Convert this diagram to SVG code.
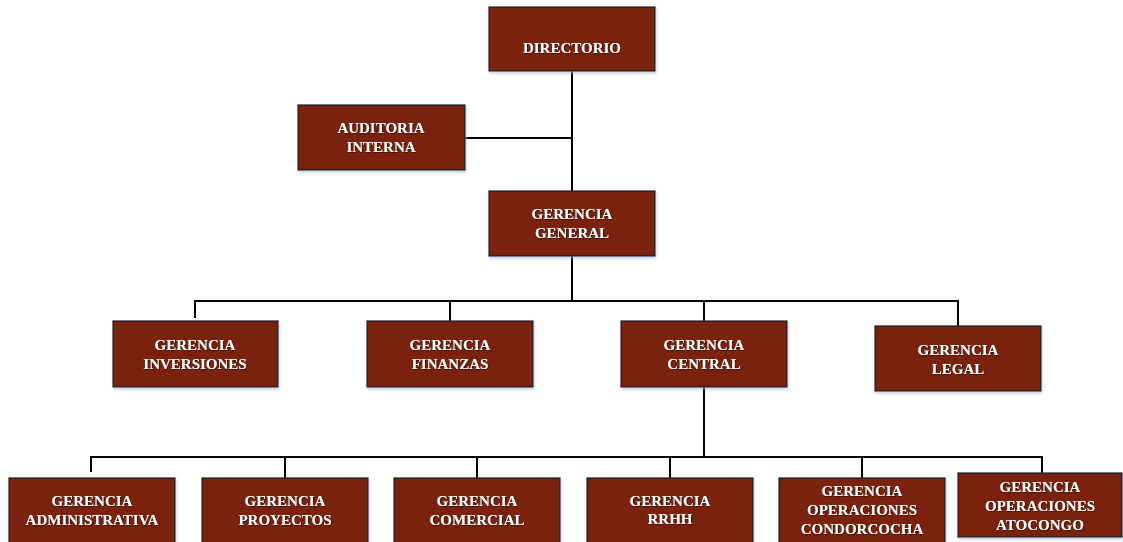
<svg xmlns="http://www.w3.org/2000/svg" width="1123" height="542" viewBox="0 0 1123 542">
<style>
.box{fill:#7a200b;stroke:#1a1a1a;stroke-width:1.2;filter:url(#bs)}
.t{font-family:"Liberation Serif","Times New Roman",serif;font-weight:bold;font-size:15px;fill:#ffffff;text-anchor:middle;filter:url(#ts)}
.c{stroke:#000;stroke-width:2;fill:none}
</style>
<defs>
<filter id="bs" x="-10%" y="-10%" width="120%" height="130%"><feDropShadow dx="1" dy="2" stdDeviation="1.5" flood-color="#9fb3d9" flood-opacity="0.6"/></filter>
<filter id="ts" x="-10%" y="-30%" width="120%" height="160%"><feDropShadow dx="0.6" dy="0.6" stdDeviation="0.4" flood-color="#000" flood-opacity="0.8"/></filter>
</defs>
<rect width="1123" height="542" fill="#fff"/>
<g id="connectors">
<path class="c" d="M572 71V191M465 138H572M572 256V301M195 318V301H958V326M450 301V321M704 301V321M704 387V457M91 472V457H1042V473M285 457V478M477 457V478M670 457V478M862 457V478"/>
</g>
<g id="directorio"><rect class="box" x="489" y="7" width="166" height="64"/><text class="t" x="572" y="53">DIRECTORIO</text></g>
<g id="auditoria"><rect class="box" x="298" y="105" width="167" height="65"/><text class="t" x="381" y="133">AUDITORIA</text><text class="t" x="381" y="152">INTERNA</text></g>
<g id="general"><rect class="box" x="489" y="191" width="166" height="65"/><text class="t" x="572" y="219">GERENCIA</text><text class="t" x="572" y="238">GENERAL</text></g>
<g id="inversiones"><rect class="box" x="113" y="321" width="165" height="66"/><text class="t" x="195" y="350">GERENCIA</text><text class="t" x="195" y="369">INVERSIONES</text></g>
<g id="finanzas"><rect class="box" x="367" y="321" width="166" height="66"/><text class="t" x="450" y="350">GERENCIA</text><text class="t" x="450" y="369">FINANZAS</text></g>
<g id="central"><rect class="box" x="621" y="321" width="166" height="66"/><text class="t" x="704" y="350">GERENCIA</text><text class="t" x="704" y="369">CENTRAL</text></g>
<g id="legal"><rect class="box" x="875" y="326" width="166" height="65"/><text class="t" x="958" y="355">GERENCIA</text><text class="t" x="958" y="374">LEGAL</text></g>
<g id="administrativa"><rect class="box" x="9" y="478" width="166" height="67"/><text class="t" x="92" y="506">GERENCIA</text><text class="t" x="92" y="525">ADMINISTRATIVA</text></g>
<g id="proyectos"><rect class="box" x="202" y="478" width="166" height="67"/><text class="t" x="285" y="506">GERENCIA</text><text class="t" x="285" y="525">PROYECTOS</text></g>
<g id="comercial"><rect class="box" x="394" y="478" width="166" height="67"/><text class="t" x="477" y="506">GERENCIA</text><text class="t" x="477" y="525">COMERCIAL</text></g>
<g id="rrhh"><rect class="box" x="587" y="478" width="166" height="67"/><text class="t" x="670" y="506">GERENCIA</text><text class="t" x="670" y="524">RRHH</text></g>
<g id="condorcocha"><rect class="box" x="779" y="478" width="166" height="67"/><text class="t" x="862" y="496">GERENCIA</text><text class="t" x="862" y="515">OPERACIONES</text><text class="t" x="862" y="534">CONDORCOCHA</text></g>
<g id="atocongo"><rect class="box" x="958" y="473" width="164" height="64"/><text class="t" x="1040" y="492">GERENCIA</text><text class="t" x="1040" y="511">OPERACIONES</text><text class="t" x="1040" y="530">ATOCONGO</text></g>
</svg>
